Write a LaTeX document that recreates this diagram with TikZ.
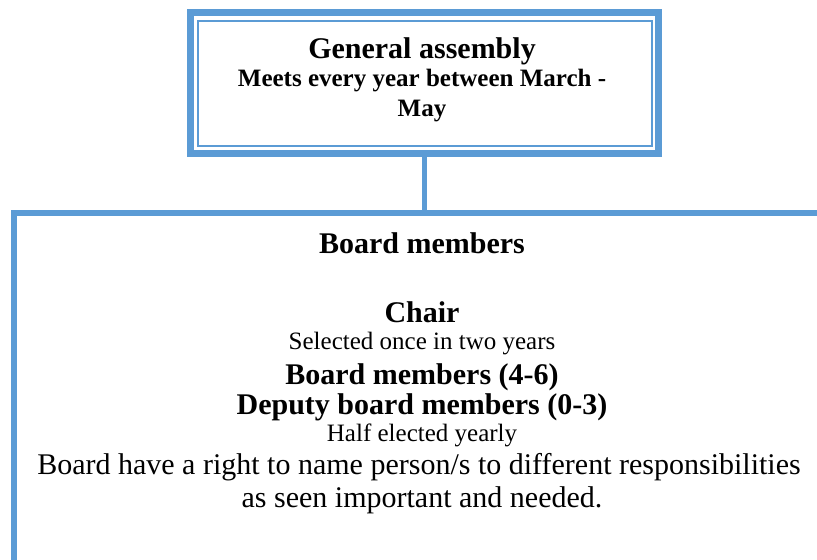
\documentclass[tikz,border=0pt]{standalone}
\usepackage{fontspec}
\setmainfont{Liberation Serif}
\usetikzlibrary{calc}

\definecolor{boxblue}{RGB}{91,155,213}
\tikzset{
  head/.style = {anchor = base, font = \fontsize{15}{18}\selectfont\bfseries},
  subhead/.style = {anchor = base, font = \fontsize{12.5}{15}\selectfont\bfseries},
  note/.style = {anchor = base, font = \fontsize{12.5}{15}\selectfont},
  body/.style = {anchor = base, font = \fontsize{15}{18}\selectfont}
}

\begin{document}
\begin{tikzpicture}[x = .5pt, y = .5pt]
  \useasboundingbox (0, 0) rectangle (817, 560);
  \clip (0, 0) rectangle (817, 560);

  % general assembly box, thick frame with a thin one inside
  \node[draw = boxblue, line width = 3.5pt, outer sep = 0pt, inner sep = 0pt,
  minimum width = 234pt, minimum height = 70.5pt] (GA) at (424.5, 477) {};
  \draw[boxblue, line width = 1pt] ($(GA.north west) + (7, -8.5)$)
  rectangle ($(GA.south east) + (-7, 7.5)$);

  % board box, open to the right and below
  \coordinate (BM) at (14, 347);
  \draw[boxblue, line width = 3pt] (14, -20) -- (BM) -- (840, 347);
  \draw[boxblue, line width = 2.5pt] (GA.south) -- (GA.south |- BM);

  \node[head] (assembly) at (422, 501) {General assembly};
  \node[subhead] (meets) at (422, 473) {Meets every year between March -};
  \node[subhead] (may) at (422, 443) {May};

  \node[head] (board) at (422, 306) {Board members};
  \node[head] (chair) at (422, 237) {Chair};
  \node[note] (selected) at (422, 210) {Selected once in two years};
  \node[head] (members) at (422, 175) {Board members (4-6)};
  \node[head] (deputy) at (422, 145) {Deputy board members (0-3)};
  \node[note] (half) at (422, 118) {Half elected yearly};
  \node[body] (right) at (419, 85)
  {Board have a right to name person/s to different responsibilities};
  \node[body] (seen) at (422, 52) {as seen important and needed.};
\end{tikzpicture}
\end{document}
